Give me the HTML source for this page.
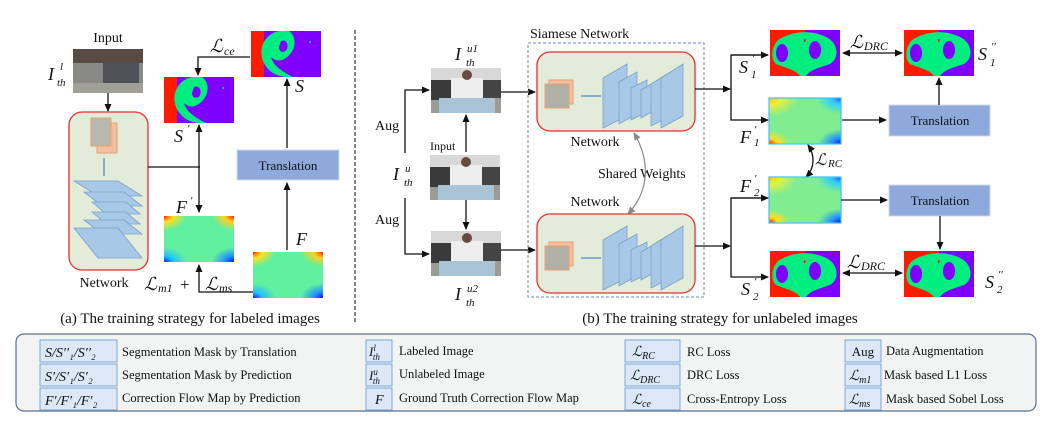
<!DOCTYPE html>
<html><head><meta charset="utf-8"><style>
html,body{margin:0;padding:0;background:#fff;}
svg{display:block;}
text{font-family:"Liberation Serif","DejaVu Serif",serif;fill:#111;}
.m{font-style:italic;}
</style></head><body>
<svg width="1059" height="422" viewBox="0 0 1059 422" xmlns="http://www.w3.org/2000/svg">
<defs>
<marker id="ar" markerWidth="8" markerHeight="8" refX="7" refY="4" orient="auto" markerUnits="userSpaceOnUse"><path d="M0,0.5 L8,4 L0,7.5 z" fill="#111"/></marker>
<marker id="as" markerWidth="8" markerHeight="8" refX="1" refY="4" orient="auto" markerUnits="userSpaceOnUse"><path d="M8,0.5 L0,4 L8,7.5 z" fill="#111"/></marker>
<marker id="ag" markerWidth="8" markerHeight="8" refX="7" refY="4" orient="auto" markerUnits="userSpaceOnUse"><path d="M0,0.5 L8,4 L0,7.5 z" fill="#888"/></marker>
<marker id="ags" markerWidth="8" markerHeight="8" refX="1" refY="4" orient="auto" markerUnits="userSpaceOnUse"><path d="M8,0.5 L0,4 L8,7.5 z" fill="#888"/></marker>
<radialGradient id="cTL" cx="0" cy="0" r="0.32"><stop offset="0" stop-color="#ff2000"/><stop offset="0.4" stop-color="#ffe020"/><stop offset="1" stop-color="#ffe020" stop-opacity="0"/></radialGradient>
<radialGradient id="cTR" cx="1" cy="0" r="0.32"><stop offset="0" stop-color="#ff2000"/><stop offset="0.4" stop-color="#ffd020"/><stop offset="1" stop-color="#ffd020" stop-opacity="0"/></radialGradient>
<radialGradient id="cBL" cx="0" cy="1" r="0.32"><stop offset="0" stop-color="#1020ff"/><stop offset="0.4" stop-color="#20c0ff"/><stop offset="1" stop-color="#20c0ff" stop-opacity="0"/></radialGradient>
<radialGradient id="cBR" cx="1" cy="1" r="0.32"><stop offset="0" stop-color="#1010e0"/><stop offset="0.4" stop-color="#2090ff"/><stop offset="1" stop-color="#2090ff" stop-opacity="0"/></radialGradient>
<radialGradient id="dTL" cx="0" cy="0" r="0.4"><stop offset="0" stop-color="#ffc020"/><stop offset="0.4" stop-color="#e8f040"/><stop offset="1" stop-color="#e8f040" stop-opacity="0"/></radialGradient>
<radialGradient id="dBL" cx="0" cy="1" r="0.3"><stop offset="0" stop-color="#ff1000"/><stop offset="0.4" stop-color="#ffe020"/><stop offset="1" stop-color="#ffe020" stop-opacity="0"/></radialGradient>
<radialGradient id="dTR" cx="1" cy="0" r="0.35"><stop offset="0" stop-color="#2050ff"/><stop offset="0.4" stop-color="#30d0ff"/><stop offset="1" stop-color="#30d0ff" stop-opacity="0"/></radialGradient>
<g id="mask1">
<rect x="0" y="0" width="70" height="46" fill="#8000ff"/>
<rect x="0" y="0" width="13" height="46" fill="#ff1a00"/>
<path d="M28,0 C8,4 4,30 22,42 C30,47 40,46 42,46 C30,40 22,34 20,26 C26,32 34,30 40,22 C46,14 44,4 38,0 Z" fill="#00ee80"/>
<path d="M30,10 C34,8 38,12 36,18 C34,22 28,22 28,16Z" fill="#8000ff"/>
<circle cx="59" cy="11" r="1" fill="#00ee80"/>
</g>
<g id="mask2">
<rect x="0" y="0" width="70" height="46" fill="#8000ff"/>
<rect x="0" y="0" width="35" height="46" fill="#ff1a00"/>
<path d="M8,10 C20,2 40,-2 58,8 C68,14 70,28 60,34 C48,38 40,40 36,46 L30,46 C26,40 16,38 6,34 C0,28 2,16 8,10Z" fill="#00ee80"/>
<ellipse cx="12" cy="23" rx="6" ry="9" fill="#8000ff"/>
<ellipse cx="45" cy="20" rx="6" ry="9" fill="#8000ff"/>
<rect x="34" y="9" width="1.5" height="3" fill="#ff1a00"/>
</g>
<g id="flow">
<rect x="0" y="0" width="70" height="46" fill="#60f0a0"/>
<rect x="0" y="0" width="70" height="46" fill="url(#cTL)"/>
<rect x="0" y="0" width="70" height="46" fill="url(#cTR)"/>
<rect x="0" y="0" width="70" height="46" fill="url(#cBL)"/>
<rect x="0" y="0" width="70" height="46" fill="url(#cBR)"/>
</g>
<g id="flow2">
<rect x="0" y="0" width="72" height="46" fill="#80ee90"/>
<rect x="0" y="0" width="72" height="46" fill="url(#dTL)"/>
<rect x="0" y="0" width="72" height="46" fill="url(#dBL)"/>
<rect x="0" y="0" width="72" height="46" fill="url(#dTR)"/>
<rect x="0" y="0" width="72" height="46" fill="url(#cBR)"/>
<rect x="0" y="0" width="72" height="46" fill="none" stroke="#40c0ff" stroke-width="1.2"/>
</g>
<g id="photo">
<rect x="0" y="0" width="70" height="45" fill="#9a9c98"/>
<rect x="0" y="0" width="70" height="12" fill="#d8d8d8"/>
<rect x="0" y="12" width="22" height="20" fill="#3a3a3a"/>
<rect x="48" y="12" width="22" height="18" fill="#444"/>
<rect x="20" y="10" width="32" height="22" fill="#eeeeee"/>
<circle cx="36" cy="7" r="5" fill="#6a4a40"/>
<rect x="8" y="30" width="56" height="15" fill="#a9c4d6"/>
</g>
<g id="net">
<rect x="0" y="0" width="158" height="79" rx="13" fill="#e2ecd8" stroke="#e53030" stroke-width="1.3"/>
<rect x="12" y="28" width="24" height="24" fill="#f2c0a0" stroke="#e8a070"/>
<rect x="8" y="32" width="24" height="24" fill="#b0b0a8" stroke="#e8a070"/>
<line x1="44" y1="44" x2="64" y2="44" stroke="#3070c0"/>
<g fill="#a8c8e8" stroke="#7aa0c8" stroke-width="0.8">
<path d="M66,26 L90,12 L90,64 L66,76Z"/>
<path d="M82,30 L100,20 L100,62 L82,72Z"/>
<path d="M94,36 L110,28 L110,60 L94,68Z"/>
<path d="M104,38 L118,30 L118,58 L104,66Z"/>
<path d="M114,32 L130,22 L130,66 L114,74Z"/>
<path d="M124,26 L146,12 L146,64 L124,76Z"/>
</g>
</g>
</defs>

<text x="108" y="42" font-size="14" text-anchor="middle">Input</text>
<g transform="translate(73,49)"><rect width="70" height="44" fill="#8a8a84"/><rect width="70" height="14" fill="#5a4a44"/><rect x="30" y="14" width="36" height="26" fill="#505058"/><rect y="34" width="70" height="10" fill="#a0a098"/></g>
<text x="48" y="80" font-size="18" class="m">I</text><text x="60" y="70" font-size="11" class="m">l</text><text x="57" y="86" font-size="11" class="m">th</text>
<line x1="108" y1="93" x2="108" y2="111" stroke="#111" stroke-width="1.3" marker-end="url(#ar)"/>
<rect x="69" y="112" width="79" height="158" rx="13" fill="#e2ecd8" stroke="#e53030" stroke-width="1.3"/>
<rect x="97" y="123" width="20" height="30" fill="#f2c0a0" stroke="#e8a070"/>
<rect x="91" y="118" width="20" height="28" fill="#b8b8b0" stroke="#e8a070"/>
<line x1="104" y1="158" x2="104" y2="176" stroke="#3070c0"/>
<g fill="#a8c8e8" stroke="#7aa0c8" stroke-width="0.8">
<path d="M74,181 L118,181 L142,196 L98,196Z"/>
<path d="M84,192 L124,192 L142,206 L102,206Z"/>
<path d="M92,202 L126,202 L140,214 L106,214Z"/>
<path d="M92,212 L126,212 L140,224 L106,224Z"/>
<path d="M84,220 L124,220 L142,234 L102,234Z"/>
<path d="M74,228 L118,228 L142,258 L98,258Z"/>
</g>
<text x="104" y="287" font-size="14" text-anchor="middle">Network</text>
<line x1="148" y1="167" x2="200" y2="167" stroke="#111" stroke-width="1.3"/>
<line x1="199" y1="125" x2="199" y2="212" stroke="#111" stroke-width="1.3" marker-start="url(#as)" marker-end="url(#ar)"/>
<use href="#mask1" x="164" y="77"/>
<text x="174" y="142" font-size="18" class="m">S</text><text x="187" y="132" font-size="11" class="m">′</text>
<use href="#flow" x="164" y="216"/>
<text x="176" y="213" font-size="18" class="m">F</text><text x="190" y="204" font-size="11" class="m">′</text>
<use href="#mask1" x="251" y="31"/>
<text x="295" y="92" font-size="18" class="m">S</text>
<text x="210" y="52" font-size="18" class="m">ℒ</text><text x="224" y="55" font-size="12" class="m">ce</text>
<polyline points="250,57 198,57 198,75" fill="none" stroke="#111" stroke-width="1.3" marker-end="url(#ar)"/>
<rect x="237" y="150" width="102" height="30" fill="#8eaadc" stroke="#d0dae8"/>
<text x="288" y="170" font-size="13" text-anchor="middle">Translation</text>
<line x1="287" y1="148" x2="287" y2="79" stroke="#111" stroke-width="1.3" marker-end="url(#ar)"/>
<use href="#flow" x="253" y="252"/>
<text x="296" y="245" font-size="18" class="m">F</text>
<line x1="287" y1="250" x2="287" y2="183" stroke="#111" stroke-width="1.3" marker-end="url(#ar)"/>
<text x="144" y="290" font-size="18" class="m">ℒ</text><text x="158" y="292" font-size="12" class="m">m1</text><text x="180" y="290" font-size="17">+</text>
<text x="205" y="290" font-size="18" class="m">ℒ</text><text x="219" y="292" font-size="12" class="m">ms</text>
<polyline points="253,292 199,292 199,265" fill="none" stroke="#111" stroke-width="1.3" marker-end="url(#ar)"/>
<text x="190" y="323" font-size="15" text-anchor="middle">(a) The training strategy for labeled images</text>
<line x1="355" y1="30" x2="355" y2="322" stroke="#333" stroke-width="1.2" stroke-dasharray="4,2"/>

<text x="455" y="60" font-size="18" class="m">I</text><text x="467" y="52" font-size="11" class="m">u1</text><text x="466" y="66" font-size="11" class="m">th</text>
<use href="#photo" x="431" y="68"/>
<polyline points="405,153 405,90 429,90" fill="none" stroke="#111" stroke-width="1.3" marker-end="url(#ar)"/>
<text x="375" y="130" font-size="14">Aug</text>
<text x="393" y="180" font-size="18" class="m">I</text><text x="405" y="172" font-size="11" class="m">u</text><text x="404" y="186" font-size="11" class="m">th</text>
<text x="430" y="150" font-size="12">Input</text>
<use href="#photo" x="430" y="155"/>
<line x1="466" y1="152" x2="466" y2="115" stroke="#111" stroke-width="1.3" marker-end="url(#ar)"/>
<line x1="466" y1="200" x2="466" y2="229" stroke="#111" stroke-width="1.3" marker-end="url(#ar)"/>
<use href="#photo" x="431" y="231"/>
<text x="455" y="300" font-size="18" class="m">I</text><text x="467" y="292" font-size="11" class="m">u2</text><text x="466" y="306" font-size="11" class="m">th</text>
<text x="375" y="224" font-size="14">Aug</text>
<polyline points="405,198 405,254 429,254" fill="none" stroke="#111" stroke-width="1.3" marker-end="url(#ar)"/>
<line x1="501" y1="92" x2="535" y2="92" stroke="#111" stroke-width="1.3" marker-end="url(#ar)"/>
<line x1="501" y1="250" x2="535" y2="250" stroke="#111" stroke-width="1.3" marker-end="url(#ar)"/>
<rect x="528" y="43" width="176" height="254" fill="none" stroke="#6a8aaa" stroke-width="1" stroke-dasharray="3,2"/>
<text x="530" y="38" font-size="14">Siamese Network</text>
<use href="#net" x="537" y="52"/>
<text x="595" y="146" font-size="14" text-anchor="middle">Network</text>
<text x="598" y="178" font-size="14">Shared Weights</text>
<path d="M634,133 C650,160 650,190 628,214" fill="none" stroke="#888" stroke-width="1.2" marker-start="url(#ags)" marker-end="url(#ag)"/>
<text x="595" y="206" font-size="14" text-anchor="middle">Network</text>
<use href="#net" x="537" y="214"/>
<line x1="695" y1="89" x2="730" y2="89" stroke="#111" stroke-width="1.3" marker-end="url(#ar)"/>
<line x1="695" y1="246" x2="730" y2="246" stroke="#111" stroke-width="1.3" marker-end="url(#ar)"/>
<polyline points="768,55 731,55 731,120 768,120" fill="none" stroke="#111" stroke-width="1.3" marker-end="url(#ar)"/>
<line x1="731" y1="55" x2="768" y2="55" stroke="#111" stroke-width="1.3" marker-end="url(#ar)"/>
<use href="#mask2" x="770" y="30"/>
<text x="739" y="73" font-size="18" class="m">S</text><text x="752" y="62" font-size="11" class="m">′</text><text x="751" y="78" font-size="11" class="m">1</text>
<use href="#flow2" x="769" y="98"/>
<text x="740" y="143" font-size="18" class="m">F</text><text x="754" y="133" font-size="11" class="m">′</text><text x="754" y="146" font-size="11" class="m">1</text>
<rect x="889" y="105" width="101" height="31" fill="#8eaadc" stroke="#d0dae8"/>
<text x="940" y="125" font-size="13" text-anchor="middle">Translation</text>
<line x1="842" y1="120" x2="886" y2="120" stroke="#111" stroke-width="1.3" marker-end="url(#ar)"/>
<line x1="939" y1="105" x2="939" y2="78" stroke="#111" stroke-width="1.3" marker-end="url(#ar)"/>
<use href="#mask2" x="904" y="30"/>
<text x="978" y="60" font-size="18" class="m">S</text><text x="991" y="50" font-size="11" class="m">′′</text><text x="990" y="66" font-size="11" class="m">1</text>
<text x="850" y="48" font-size="18" class="m">ℒ</text><text x="864" y="50" font-size="12" class="m">DRC</text>
<line x1="843" y1="53" x2="902" y2="53" stroke="#111" stroke-width="1.3" marker-start="url(#as)" marker-end="url(#ar)"/>
<path d="M808,145 C815,155 815,168 806,177" fill="none" stroke="#111" stroke-width="1.3" marker-start="url(#as)" marker-end="url(#ar)"/>
<text x="815" y="165" font-size="16" class="m">ℒ</text><text x="828" y="167" font-size="11" class="m">RC</text>
<use href="#flow2" x="769" y="177"/>
<text x="740" y="192" font-size="18" class="m">F</text><text x="754" y="182" font-size="11" class="m">′</text><text x="754" y="196" font-size="11" class="m">2</text>
<polyline points="768,198 731,198 731,277 768,277" fill="none" stroke="#111" stroke-width="1.3" marker-end="url(#ar)"/>
<line x1="731" y1="198" x2="768" y2="198" stroke="#111" stroke-width="1.3" marker-end="url(#ar)"/>
<rect x="889" y="185" width="101" height="31" fill="#8eaadc" stroke="#d0dae8"/>
<text x="940" y="205" font-size="13" text-anchor="middle">Translation</text>
<line x1="841" y1="200" x2="887" y2="200" stroke="#111" stroke-width="1.3" marker-end="url(#ar)"/>
<line x1="940" y1="216" x2="940" y2="249" stroke="#111" stroke-width="1.3" marker-end="url(#ar)"/>
<use href="#mask2" x="770" y="251"/>
<text x="741" y="295" font-size="18" class="m">S</text><text x="754" y="285" font-size="11" class="m">′</text><text x="753" y="300" font-size="11" class="m">2</text>
<use href="#mask2" x="904" y="251"/>
<text x="985" y="288" font-size="18" class="m">S</text><text x="998" y="278" font-size="11" class="m">′′</text><text x="997" y="293" font-size="11" class="m">2</text>
<text x="847" y="268" font-size="18" class="m">ℒ</text><text x="861" y="270" font-size="12" class="m">DRC</text>
<line x1="843" y1="273" x2="902" y2="273" stroke="#111" stroke-width="1.3" marker-start="url(#as)" marker-end="url(#ar)"/>
<text x="720" y="323" font-size="15" text-anchor="middle">(b) The training strategy for unlabeled images</text>

<rect x="16" y="334" width="1020" height="77" rx="8" fill="#f2f3f3" stroke="#5a7090" stroke-width="1.2"/>
<g font-size="12.5">
<rect x="40" y="340" width="77" height="22" fill="#dce8f6" stroke="#7aa8d8"/>
<text x="45" y="357" class="m" font-size="14">S/S′′₁/S′′₂</text>
<text x="122" y="356">Segmentation Mask by Translation</text>
<rect x="40" y="364" width="77" height="22" fill="#dce8f6" stroke="#7aa8d8"/>
<text x="45" y="381" class="m" font-size="14">S′/S′₁/S′₂</text>
<text x="122" y="379">Segmentation Mask by Prediction</text>
<rect x="40" y="388" width="77" height="22" fill="#dce8f6" stroke="#7aa8d8"/>
<text x="45" y="405" class="m" font-size="14">F′/F′₁/F′₂</text>
<text x="122" y="402">Correction Flow Map by Prediction</text>

<rect x="366" y="340" width="26" height="22" fill="#dce8f6" stroke="#7aa8d8"/>
<text x="369" y="356" class="m" font-size="13">I<tspan font-size="9" dy="-5">l</tspan><tspan font-size="9" dx="-3" dy="9">th</tspan></text>
<text x="399" y="355">Labeled Image</text>
<rect x="366" y="364" width="26" height="22" fill="#dce8f6" stroke="#7aa8d8"/>
<text x="369" y="380" class="m" font-size="13">I<tspan font-size="9" dy="-5">u</tspan><tspan font-size="9" dx="-5" dy="9">th</tspan></text>
<text x="399" y="378">Unlabeled Image</text>
<rect x="366" y="388" width="26" height="22" fill="#dce8f6" stroke="#7aa8d8"/>
<text x="375" y="404" class="m" font-size="14">F</text>
<text x="399" y="402">Ground Truth Correction Flow Map</text>

<rect x="625" y="340" width="55" height="22" fill="#dce8f6" stroke="#7aa8d8"/>
<text x="632" y="356" class="m" font-size="14">ℒ<tspan font-size="10" dy="3">RC</tspan></text>
<text x="687" y="356">RC Loss</text>
<rect x="625" y="364" width="55" height="22" fill="#dce8f6" stroke="#7aa8d8"/>
<text x="630" y="380" class="m" font-size="14">ℒ<tspan font-size="10" dy="3">DRC</tspan></text>
<text x="687" y="379">DRC Loss</text>
<rect x="625" y="388" width="55" height="22" fill="#dce8f6" stroke="#7aa8d8"/>
<text x="632" y="404" class="m" font-size="14">ℒ<tspan font-size="10" dy="3">ce</tspan></text>
<text x="687" y="403">Cross-Entropy Loss</text>

<rect x="845" y="340" width="36" height="22" fill="#dce8f6" stroke="#7aa8d8"/>
<text x="863" y="356" font-size="13" text-anchor="middle">Aug</text>
<text x="886" y="355">Data Augmentation</text>
<rect x="845" y="364" width="36" height="22" fill="#dce8f6" stroke="#7aa8d8"/>
<text x="849" y="380" class="m" font-size="14">ℒ<tspan font-size="10" dy="3">m1</tspan></text>
<text x="884" y="379">Mask based L1 Loss</text>
<rect x="845" y="388" width="36" height="22" fill="#dce8f6" stroke="#7aa8d8"/>
<text x="849" y="404" class="m" font-size="14">ℒ<tspan font-size="10" dy="3">ms</tspan></text>
<text x="886" y="403">Mask based Sobel Loss</text>
</g>
</svg>
</body></html>
